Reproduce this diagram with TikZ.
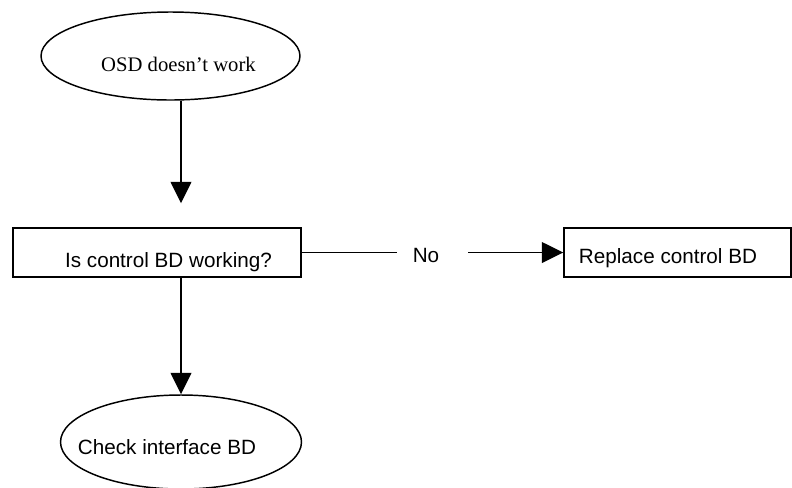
\documentclass[tikz,border=0pt]{standalone}
\usepackage{fontspec}
\setmainfont{Liberation Sans}
\newfontfamily\timesfont{Liberation Serif}
\usetikzlibrary{shapes.geometric, arrows.meta}

\tikzset{
    flowbox/.style  = {draw = black, line width = 1.1pt, fill = white, rectangle,
                       minimum height = 36.75pt, inner sep = 0pt},
    flowoval/.style = {draw = black, line width = 1.1pt, fill = white, ellipse, inner sep = 0pt},
    flowtext/.style = {anchor = base, inner sep = 0pt, font = \fontsize{15.5}{18}\selectfont},
    flowarrow/.style = {line width = 1.1pt, -{Triangle[length = 16pt, width = 15.5pt]}},
    flowline/.style = {line width = 1.1pt}
}

\begin{document}
\begin{tikzpicture}[x = 0.75pt, y = -0.75pt]
    \useasboundingbox (+0.000, +0.000) rectangle (+792.000, +487.000);

    % === Shapes ===
    % Start
    \node[flowoval, minimum width = 194.25pt, minimum height = 66pt] (start) at (+170.500, +56.000) {};
    % Question
    \node[flowbox, minimum width = 216pt] (question) at (+157.000, +252.500) {};
    % Replace
    \node[flowbox, minimum width = 170.25pt] (replace) at (+677.500, +252.500) {};
    % Check
    \node[flowoval, minimum width = 180.75pt, minimum height = 70.5pt] (check) at (+181.000, +442.000) {};

    % === Texts ===
    \node[flowtext, font = \fontsize{15.5}{18}\selectfont\timesfont] (starttext) at (+178.500, +71.000) {OSD doesn’t work};
    \node[flowtext] (questiontext) at (+168.500, +267.000) {Is control BD working?};
    \node[flowtext] (no) at (+426.000, +262.000) {No};
    \node[flowtext] (replacetext) at (+668.000, +263.000) {Replace control BD};
    \node[flowtext] (checktext) at (+167.000, +454.000) {Check interface BD};

    % === Connectors ===
    % Start to question
    \draw[flowarrow, shorten > = 18pt] (start.south -| check.north) -- (question.north -| check.north);
    % Question to check
    \draw[flowarrow] (question.south -| check.north) -- (check.north);
    % Question to replace, broken round the No
    \draw[flowline, shorten > = 12pt] (question.east) -- (question.east -| no.west);
    \draw[flowarrow, shorten < = 21.75pt] (replace.west -| no.east) -- (replace.west);
\end{tikzpicture}
\end{document}
